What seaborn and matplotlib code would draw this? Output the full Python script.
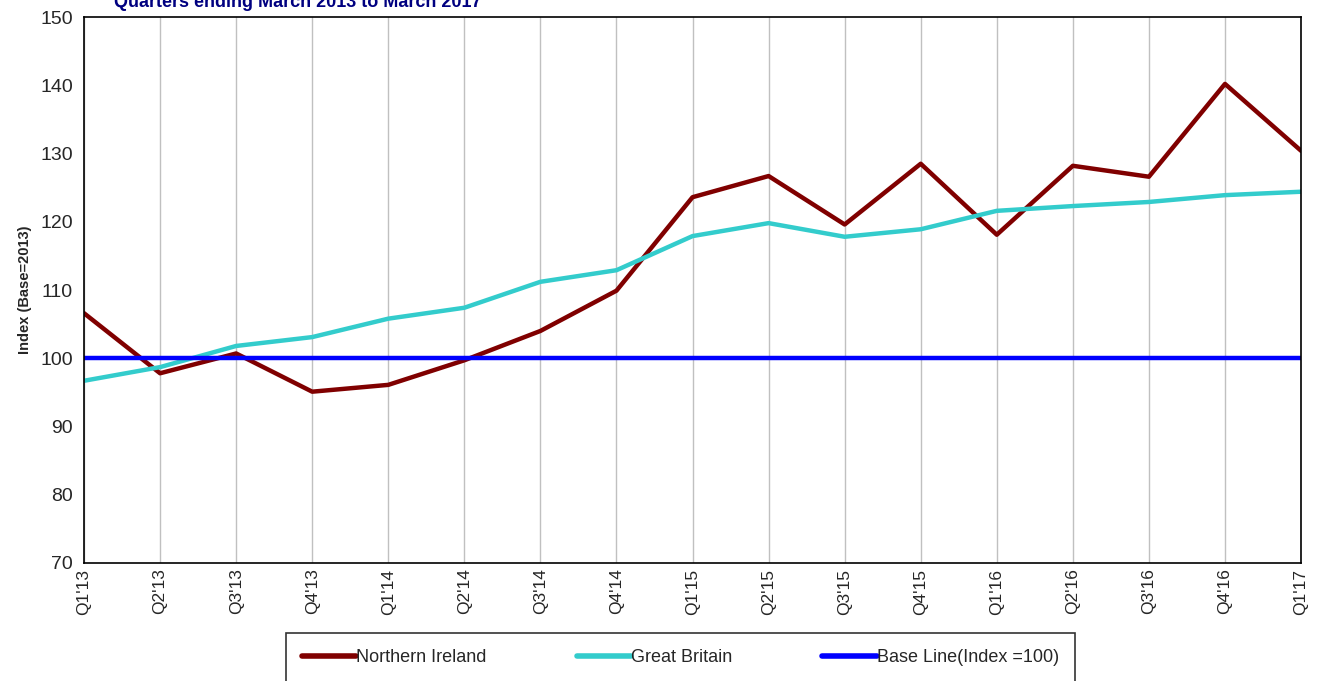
import pandas as pd
import numpy as np
import matplotlib
matplotlib.use("Agg")
import matplotlib.pyplot as plt
import seaborn as sns

# quarter labels
quarters = ["Q1'13", "Q2'13", "Q3'13", "Q4'13", "Q1'14", "Q2'14", "Q3'14", "Q4'14",
            "Q1'15", "Q2'15", "Q3'15", "Q4'15", "Q1'16", "Q2'16", "Q3'16", "Q4'16", "Q1'17"]

# index values
ni_values = [106.6, 97.8, 100.7, 95.1, 96.1, 99.7, 104.0, 109.9,
             123.6, 126.7, 119.6, 128.5, 118.1, 128.2, 126.6, 140.2, 130.4]
gb_values = [96.7, 98.7, 101.8, 103.1, 105.8, 107.4, 111.2, 112.9,
             117.9, 119.8, 117.8, 118.9, 121.6, 122.3, 122.9, 123.9, 124.4]
base_values = [100] * len(quarters)

sns.set_style("white")
plt.rcParams['font.family'] = ['Liberation Sans', 'DejaVu Sans']

df = pd.DataFrame({
    'pos': list(range(len(quarters))) * 3,
    'value': ni_values + gb_values + base_values,
    'series': ['Northern Ireland'] * len(quarters) + ['Great Britain'] * len(quarters)
              + ['Base Line(Index =100)'] * len(quarters),
})

colors = {'Northern Ireland': '#800000', 'Great Britain': '#33CCCC',
          'Base Line(Index =100)': '#0000FF'}

fig = plt.figure(figsize=(13.21, 6.81), dpi=100)
ax = fig.add_axes([0.0636, 0.1733, 0.9213, 0.8017])

sns.lineplot(data=df, x='pos', y='value', hue='series', palette=colors,
             linewidth=3.2, ax=ax, legend=True)

ax.set_xlim(0, len(quarters) - 1)
ax.set_ylim(70, 150)
ax.set_yticks(range(70, 151, 10))
ax.set_xticks(range(len(quarters)))
ax.set_xticklabels(quarters, rotation=90, fontsize=12.5)
ax.tick_params(axis='y', labelsize=14, length=0, pad=8)
ax.tick_params(axis='x', length=0, pad=4)
ax.xaxis.grid(True, color='#C0C0C0', linewidth=1)
ax.yaxis.grid(False)
ax.set_xlabel('')
ax.set_ylabel('Index (Base=2013)', fontsize=10.5, fontweight='bold', labelpad=6)
for s in ax.spines.values():
    s.set_color('black')
    s.set_linewidth(1.2)

# title is clipped at the top edge in the source too
fig.text(0.086, 0.996, 'Quarters ending March 2013 to March 2017', color='#000080',
         fontsize=13, fontweight='bold', va='center', ha='left')

leg = ax.legend(loc='upper center', bbox_to_anchor=(0.49, -0.128), ncol=3,
                frameon=True, fancybox=False, edgecolor='black', fontsize=13,
                handlelength=3, handletextpad=0, columnspacing=5.0,
                borderpad=0.9, borderaxespad=0, title=None)
leg.get_frame().set_linewidth(1.2)
for line in leg.get_lines():
    line.set_linewidth(4)

fig.savefig('out.png', dpi=100)
